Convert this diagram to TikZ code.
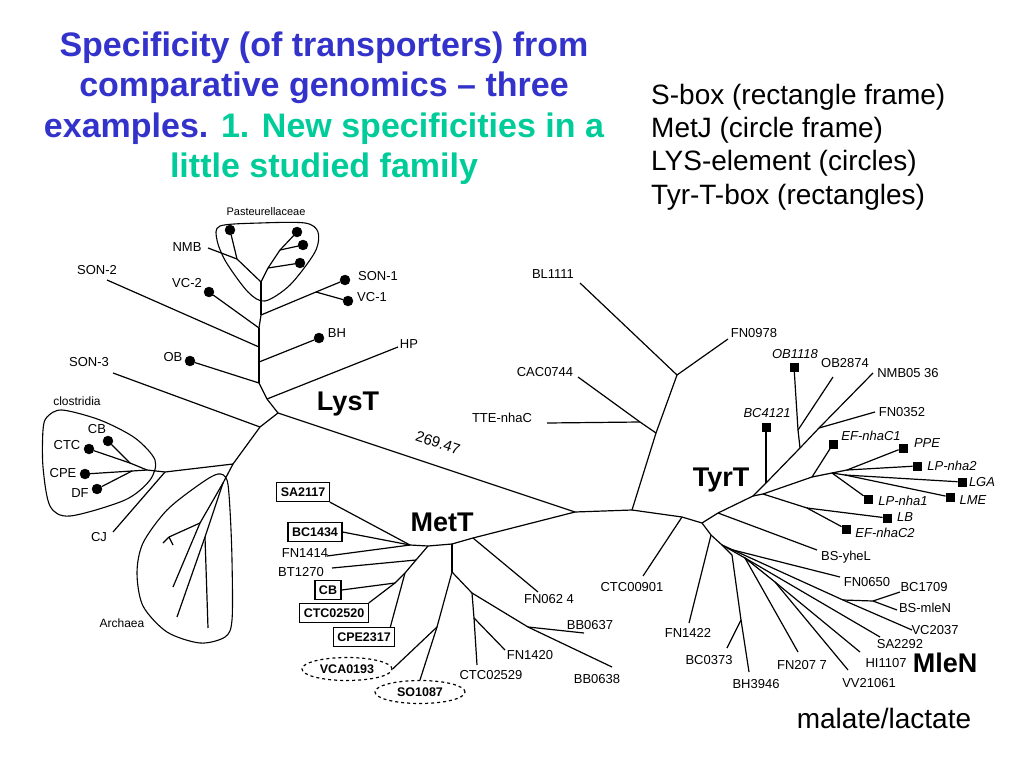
\documentclass[tikz,border=0pt]{standalone}
\usepackage{fontspec}
\setmainfont{Liberation Sans}
\usetikzlibrary{shapes.geometric}
\definecolor{titleblue}{RGB}{51,51,204}
\definecolor{titlegreen}{RGB}{0,204,153}

\begin{document}
\begin{tikzpicture}[x=1pt,y=-1pt]
\tikzstyle{every node}=[font=\fontsize{13}{15}\selectfont,inner sep=1pt];
\tikzstyle{treeline}=[line width=1.2pt];
\tikzstyle{clade}=[line width=1.1pt];
\tikzstyle{lys}=[draw,shape=circle,fill=black,minimum size=10pt,inner sep=0pt];
\tikzstyle{tyr}=[draw,shape=rectangle,fill=black,minimum size=8.5pt,inner sep=0pt];
\tikzstyle{sbox}=[draw,line width=1.2pt,font=\bfseries\fontsize{12.5}{14}\selectfont,inner sep=4pt,minimum height=19pt];
\tikzstyle{metj}=[draw,shape=ellipse,dashed,line width=1.2pt,font=\bfseries\fontsize{12.5}{14}\selectfont,minimum width=90pt,minimum height=23pt,inner sep=0pt];
\tikzstyle{family}=[font=\bfseries\fontsize{27}{30}\selectfont];
\tikzstyle{ital}=[font=\itshape\fontsize{13}{15}\selectfont];
\useasboundingbox (0,0) rectangle (1024,768);

% title and legend
\node[align=center,font=\bfseries\fontsize{34}{40.5}\selectfont,text=titleblue] (title) at (324,108)
  {Specificity (of transporters) from\\comparative genomics – three\\examples. \textcolor{titlegreen}{1. New specificities in a}\\\textcolor{titlegreen}{little studied family}};
\node[align=left,anchor=west,font=\fontsize{28}{33.3}\selectfont] (legend) at (650,147)
  {S-box (rectangle frame)\\MetJ (circle frame)\\LYS-element (circles)\\Tyr-T-box (rectangles)};

% junctions and free ends
\path (278,413) coordinate (C1) (260,427) coordinate (C2) (575,512) coordinate (R)
  (267,399) coordinate (s1) (259,383) coordinate (s2) (259,362) coordinate (s3)
  (259,347) coordinate (s4) (259,328) coordinate (s5) (261,315) coordinate (s6)
  (261,282) coordinate (s7) (316,292) coordinate (sv) (237,259) coordinate (p1)
  (268,268) coordinate (p2) (280,250) coordinate (p3)
  (113,373) coordinate (son3) (398,347) coordinate (hp) (107,280) coordinate (son2)
  (208,248) coordinate (nmb)
  (233,464) coordinate (A) (165,472) coordinate (K) (147,470) coordinate (Cr)
  (113,532) coordinate (cj) (130,463) coordinate (cj1) (132,471) coordinate (cj2)
  (223,483) coordinate (Ar) (205,537) coordinate (av) (200,523) coordinate (ay)
  (173,587) coordinate (a1) (177,617) coordinate (a2) (208,628) coordinate (a3)
  (169,537) coordinate (af) (163,543) coordinate (af1) (173,545) coordinate (af2);
\path (473,538) coordinate (M0) (452,544) coordinate (M1) (428,546) coordinate (m2)
  (410,545) coordinate (Mh) (416,560) coordinate (mb) (405,573) coordinate (mc)
  (395,583) coordinate (md) (452,572) coordinate (m3) (437,627) coordinate (mv)
  (472,593) coordinate (mt) (528,627) coordinate (mbb) (474,618) coordinate (mf)
  (538,592) coordinate (fn0624) (327,556) coordinate (fn1414) (332,568) coordinate (bt1270)
  (612,667) coordinate (bb0638) (584,633) coordinate (bb0637) (477,665) coordinate (ctc02529)
  (505,650) coordinate (fn1420);
\path (632,510) coordinate (T0) (682,517) coordinate (Tk) (702,523) coordinate (T1)
  (656,433) coordinate (T2) (677,375) coordinate (T3) (640,422) coordinate (tc)
  (718,513) coordinate (T4) (753,496) coordinate (T5) (766,483) coordinate (tb)
  (800,448) coordinate (tob) (819,428) coordinate (tf) (798,430) coordinate (oo)
  (763,494) coordinate (tlb) (812,477) coordinate (te) (832,473) coordinate (tl)
  (847,470) coordinate (pj) (845,475) coordinate (lj) (807,508) coordinate (tb2)
  (580,283) coordinate (bl1111) (728,339) coordinate (fn0978) (578,377) coordinate (cac0744)
  (547,423) coordinate (tte) (643,576) coordinate (ctc00901) (817,550) coordinate (bsyhel)
  (873,373) coordinate (nmb0536) (833,377) coordinate (ob2874) (875,412) coordinate (fn0352);
\path (711,535) coordinate (Tm) (722,545) coordinate (Tn) (732,555) coordinate (Tc)
  (741,620) coordinate (tbh) (733,550) coordinate (Tq) (843,600) coordinate (tbc)
  (873,601) coordinate (tbd) (745,558) coordinate (Ts) (775,582) coordinate (th)
  (689,623) coordinate (fn1422) (749,672) coordinate (bh3946) (727,648) coordinate (bc0373)
  (840,577) coordinate (fn0650) (912,630) coordinate (vc2037) (900,592) coordinate (bc1709)
  (897,610) coordinate (bsmlen) (798,652) coordinate (fn2077) (880,637) coordinate (sa2292)
  (860,652) coordinate (hi1107) (848,670) coordinate (vv21061);

% LYS-element circles and Tyr-T-box rectangles
\foreach \n/\x/\y in {OB/190/361,BH/319/338,VCtwo/209/292,SONone/345/280,VCone/348/301,
  Pa/230/230,Pb/300/263,Pc/303/245,Pd/297/232,CB/108/441,CTC/89/449,CPE/85/474,DF/97/489}
  \node[lys] (d\n) at (\x,\y) {};
\foreach \n/\x/\y in {BCa/766/427,OBa/794/367,EFa/833/444,PPE/903/448,LPb/917/466,
  LGA/962/482,LME/950/497,LPa/868/499,LB/887/518,EFb/846/529}
  \node[tyr] (q\n) at (\x,\y) {};

% S-box frames and MetJ frames
\node[sbox] (SA2117) at (303,492) {SA2117};
\node[sbox] (BC1434) at (315,532) {BC1434};
\node[sbox] (CB) at (328,590) {CB};
\node[sbox] (CTC02520) at (334,613) {CTC02520};
\node[sbox] (CPE2317) at (364,637) {CPE2317};
\node[metj] (VCA0193) at (347,669) {VCA0193};
\node[metj] (SO1087) at (420,692) {SO1087};

% branches
\foreach \a/\b in {C1/C2,C1/R,C1/s1,s1/s2,s2/s3,s3/s4,s4/s5,s5/s6,s6/s7,s1/hp,s2/dOB,
  s3/dBH,s4/son2,s5/dVCtwo,s6/sv,sv/dSONone,sv/dVCone,s7/p1,p1/nmb,p1/dPa,s7/p2,p2/dPb,
  p2/p3,p3/dPc,p3/dPd,C2/son3,C2/A,A/K,K/Cr,K/cj,Cr/cj1,cj1/dCTC,cj1/dCB,Cr/cj2,
  cj2/dCPE,cj2/dDF,A/Ar,Ar/ay,ay/a1,ay/af,af/af1,af/af2,Ar/av,av/a2,av/a3}
  \draw[treeline] (\a) -- (\b);
\foreach \a/\b in {R/M0,M0/fn0624,M0/M1,M1/m2,m2/Mh,Mh/SA2117.south east,Mh/BC1434.east,
  Mh/fn1414,m2/mb,mb/bt1270,mb/mc,mc/md,md/CTC02520.north east,md/CB.east,M1/m3,m3/mv,
  mv/SO1087.north,mv/VCA0193.east,m3/mt,mt/mbb,mbb/bb0638,mbb/bb0637,mt/mf,mf/ctc02529,
  mf/fn1420}
  \draw[treeline] (\a) -- (\b);
\draw[treeline] (mc) -- ([xshift=-5pt]CPE2317.north east);
\foreach \a/\b in {R/T0,T0/Tk,Tk/T1,T0/T2,T2/T3,T3/bl1111,T3/fn0978,T2/tc,tc/cac0744,
  tc/tte,Tk/ctc00901,T1/T4,T4/T5,T4/bsyhel,T5/tb,tb/tob,tob/tf,tf/nmb0536,tb/qBCa,
  tob/oo,oo/qOBa,oo/ob2874,tf/fn0352,T5/tlb,tlb/te,te/qEFa,te/tl,tl/pj,pj/qLPb,pj/qPPE,
  tl/lj,lj/qLGA,lj/qLME,tl/qLPa,tlb/tb2,tb2/qLB,tb2/qEFb}
  \draw[treeline] (\a) -- (\b);
\foreach \a/\b in {T1/Tm,Tm/fn1422,Tm/Tn,Tn/Tc,Tc/tbh,tbh/bh3946,tbh/bc0373,Tn/Tq,
  Tq/fn0650,Tq/tbc,tbc/vc2037,tbc/tbd,tbd/bc1709,tbd/bsmlen,Tn/Ts,Ts/fn2077,Ts/sa2292,
  Ts/th,th/hi1107,th/vv21061}
  \draw[treeline] (\a) -- (\b);

% group frames
\draw[clade] plot[smooth cycle] coordinates {(220,226) (260,223) (305,223) (318,232)
  (315,252) (290,285) (265,301) (248,292) (226,262) (217,240)};
\draw[clade] plot[smooth cycle] coordinates {(47,417) (62,410) (100,420) (135,438)
  (155,460) (150,480) (125,500) (70,516) (50,506) (43,467) (43,430)};
\draw[clade] plot[smooth cycle] coordinates {(218,474) (227,480) (230,510) (232,560)
  (232,620) (225,637) (200,643) (167,632) (143,606) (137,573) (143,543) (167,510) (200,484)};

% leaf labels
\foreach \n/\t/\x/\y in {son2/SON-2/97/270,nmb/NMB/187/247,vc2/VC-2/187/283,
  son1/SON-1/378/276,vc1/VC-1/372/297,bh/BH/337/333,hp/HP/409/344,ob/OB/173/357,
  son3/SON-3/89/362,cb/CB/97/429,ctc/CTC/67/445,cpe/CPE/63/473,df/DF/80/493,cj/CJ/99/537,
  fn0624/FN062 4/549/599,fn1414/FN1414/305/553,bt1270/BT1270/301/572,fn1420/FN1420/530/655,
  ctc02529/CTC02529/491/675,bb0637/BB0637/590/625,bb0638/BB0638/597/679,
  bl1111/BL1111/553/274,fn0978/FN0978/754/333,cac0744/CAC0744/545/372,
  tte/TTE-nhaC/502/418,ctc00901/CTC00901/632/587,bsyhel/BS-yheL/846/557,
  ob2874/OB2874/845/363,nmb0536/NMB05 36/908/373,fn0352/FN0352/902/412,
  fn1422/FN1422/688/633,bc0373/BC0373/709/660,bh3946/BH3946/756/684,fn0650/FN0650/867/582,
  bc1709/BC1709/924/587,bsmlen/BS-mleN/925/608,vc2037/VC2037/935/630,
  sa2292/SA2292/900/644,hi1107/HI1107/886/663,vv21061/VV21061/869/683,fn2077/FN207 7/802/665}
  \node (l\n) at (\x,\y) {\t};
\foreach \n/\t/\x/\y in {bc4121/BC4121/767/413,ob1118/OB1118/795/354,efa/EF-nhaC1/871/436,
  ppe/PPE/927/443,lpb/LP-nha2/952/466,lga/LGA/982/482,lme/LME/973/500,lpa/LP-nha1/903/501,
  lb/LB/905/517,efb/EF-nhaC2/885/533}
  \node[ital] (l\n) at (\x,\y) {\t};
\node[font=\fontsize{11}{13}\selectfont] (lpast) at (266,212) {Pasteurellaceae};
\node[font=\fontsize{12}{14}\selectfont] (lclos) at (77,401) {clostridia};
\node[font=\fontsize{12}{14}\selectfont] (larch) at (122,623) {Archaea};
\node[font=\fontsize{15}{17}\selectfont,rotate=-18.4] (ldist) at (438,443) {269.47};

% family names
\node[family] (LysT) at (348,404) {LysT};
\node[family] (MetT) at (442,522) {MetT};
\node[family] (TyrT) at (721,480) {TyrT};
\node[family] (MleN) at (945,663) {MleN};
\node[font=\fontsize{28}{32}\selectfont] (malate) at (884,718) {malate/lactate};
\end{tikzpicture}
\end{document}
